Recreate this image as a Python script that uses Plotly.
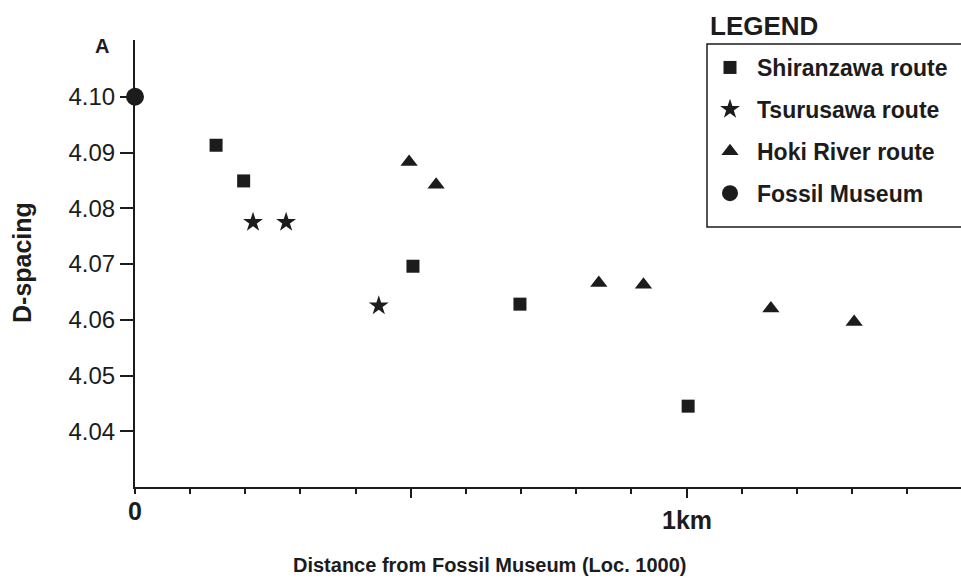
import plotly.graph_objects as go

# ---- data (distance in km, d-spacing in Angstrom) ----
shiranzawa_x = [0.147, 0.197, 0.504, 0.698, 1.003]
shiranzawa_y = [4.0913, 4.0849, 4.0696, 4.0628, 4.0445]

tsurusawa_x = [0.214, 0.274, 0.442]
tsurusawa_y = [4.0775, 4.0775, 4.0625]

hoki_x = [0.497, 0.546, 0.841, 0.922, 1.153, 1.304]
hoki_y = [4.0883, 4.0842, 4.0666, 4.0663, 4.0620, 4.0596]

museum_x = [0.0]
museum_y = [4.100]

y_ticks = [4.04, 4.05, 4.06, 4.07, 4.08, 4.09, 4.10]
y_ticklabels = ["4.04", "4.05", "4.06", "4.07", "4.08", "4.09", "4.10"]
x_labels_at = [0.0, 1.0]
x_labels = ["0", "1km"]

INK = "#1c1c1c"
FONT = "Liberation Sans, Arial, sans-serif"

W, H = 961, 581
ML, MR, MT, MB = 135, 0, 40, 94
PW, PH = W - ML - MR, H - MT - MB


def px(xp):
    return (xp - ML) / PW


def py(yp):
    return (H - MB - yp) / PH


fig = go.Figure()

series = [
    ("Shiranzawa route", shiranzawa_x, shiranzawa_y, "square", 13),
    ("Tsurusawa route", tsurusawa_x, tsurusawa_y, "star", 15),
    ("Hoki River route", hoki_x, hoki_y, "triangle-up", 15),
    ("Fossil Museum", museum_x, museum_y, "circle", 18),
]
for i, (name, xs, ys, sym, sz) in enumerate(series):
    fig.add_trace(go.Scatter(
        x=xs, y=ys, mode="markers", name=name, legendgroup=f"g{i}",
        marker=dict(symbol=sym, size=sz, color=INK, line=dict(width=0)),
        cliponaxis=False,
    ))

fig.update_xaxes(
    range=[0, PW / 551.5], showgrid=False, zeroline=False,
    showline=True, linecolor=INK, linewidth=2,
    tickmode="array", tickvals=[0.5, 1.0], ticks="outside", ticklen=9,
    tickwidth=1.5, tickcolor=INK, showticklabels=False,
    minor=dict(dtick=0.1, tick0=0, ticks="outside", ticklen=5,
               tickwidth=1.5, tickcolor=INK),
)
fig.update_yaxes(
    range=[4.03, 4.03 + 0.01 * PH / 55.75], showgrid=False, zeroline=False,
    showline=True, linecolor=INK, linewidth=2,
    tickmode="array", tickvals=y_ticks, ticktext=y_ticklabels,
    ticks="outside", ticklen=13, tickwidth=1.5, tickcolor=INK,
    tickfont=dict(family=FONT, size=24, color=INK),
)

annotations = []
# x tick labels (0 and 1km sit at slightly different heights in the original)
for xv, lab, ypix in zip(x_labels_at, x_labels, [511, 520]):
    annotations.append(dict(x=xv, xref="x", y=py(ypix), yref="paper",
                            text=f"<b>{lab}</b>",
                            showarrow=False, xanchor="center", yanchor="middle",
                            font=dict(family=FONT, size=25, color=INK)))
annotations += [
    dict(x=px(489), y=py(565), xref="paper", yref="paper",
         text="<b>Distance from Fossil Museum (Loc. 1000)</b>", showarrow=False,
         xanchor="center", yanchor="middle",
         font=dict(family=FONT, size=20, color=INK)),
    dict(x=px(22), y=py(262), xref="paper", yref="paper",
         text="<b>D-spacing</b>", textangle=-90, showarrow=False,
         xanchor="center", yanchor="middle",
         font=dict(family=FONT, size=25, color=INK)),
    dict(x=px(102), y=py(46), xref="paper", yref="paper",
         text="<b>A</b>", showarrow=False, xanchor="center", yanchor="middle",
         font=dict(family=FONT, size=20, color=INK)),
    dict(x=px(708), y=py(26), xref="paper", yref="paper",
         text="<b>LEGEND</b>", showarrow=False, xanchor="left", yanchor="middle",
         font=dict(family=FONT, size=26, color=INK)),
]

shapes = [dict(type="rect", xref="paper", yref="paper",
               x0=px(707), x1=px(975), y0=py(227), y1=py(44),
               line=dict(color=INK, width=1.5), fillcolor="rgba(0,0,0,0)")]

fig.update_layout(
    width=W, height=H,
    margin=dict(l=ML, r=MR, t=MT, b=MB),
    paper_bgcolor="white", plot_bgcolor="white",
    annotations=annotations, shapes=shapes,
    showlegend=True,
    legend=dict(x=px(703), y=py(46), xanchor="left", yanchor="top",
                bgcolor="rgba(0,0,0,0)", borderwidth=0,
                traceorder="grouped", tracegroupgap=9,
                font=dict(family=FONT, size=23, color=INK, weight="bold"),
                itemwidth=44),
)

fig.write_html("out.html",
               config={"displayModeBar": False},
               post_script="document.body.style.margin='0';"
                           "document.body.style.overflow='hidden';")
